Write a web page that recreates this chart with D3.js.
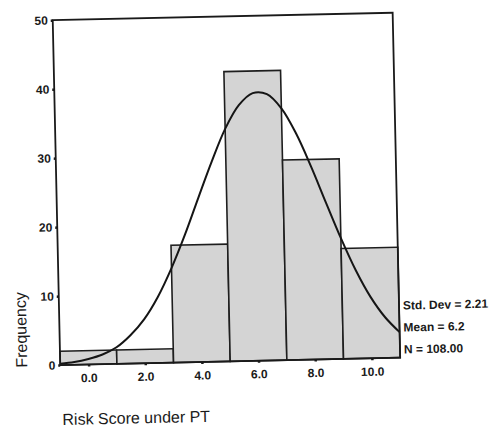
<!DOCTYPE html>
<html>
<head>
<meta charset="utf-8">
<script src="https://cdn.jsdelivr.net/npm/d3@7"></script>
<style>
  body { margin: 0; background: #fff; }
  text { font-family: "Liberation Sans", Arial, sans-serif; fill: #1a1a1a; }
</style>
</head>
<body>
<div id="wrapper"></div>
<script>
// histogram bins (centres) and counts
const binCenters = [0, 2, 4, 6, 8, 10]
const counts = [2, 2, 17, 42, 29, 16]
const binWidth = 2

// fitted normal curve
const curveX = [-1, -0.5, 0, 0.5, 1, 1.5, 2, 2.5, 3, 3.5, 4, 4.5, 5, 5.5, 6, 6.5, 7, 7.5, 8, 8.5, 9, 9.5, 10, 10.5, 11]
const curveY = [0.2, 0.4, 0.8, 1.4, 2.4, 4.1, 6.4, 9.6, 13.7, 18.5, 23.8, 29.0, 33.7, 37.1, 38.8, 38.6, 36.5, 32.8, 28.0, 22.7, 17.5, 12.8, 8.9, 5.9, 3.7]

const xTicks = [0, 2, 4, 6, 8, 10]
const yTicks = [0, 10, 20, 30, 40, 50]
const stats = ["Std. Dev = 2.21", "Mean = 6.2", "N = 108.00"]

const dimensions = {
  width: 490,
  height: 428,
  margin: { top: 16, right: 93, bottom: 67, left: 57 }
}
const innerW = dimensions.width - dimensions.margin.left - dimensions.margin.right
const innerH = dimensions.height - dimensions.margin.top - dimensions.margin.bottom

const svg = d3.select("#wrapper")
  .append("svg")
    .attr("width", dimensions.width)
    .attr("height", dimensions.height)

// the scan is tilted a little
const page = svg.append("g")
  .attr("transform", "rotate(-1.25, 245, 214)")

const bounds = page.append("g")
  .attr("transform", `translate(${dimensions.margin.left}, ${dimensions.margin.top})`)

const x = d3.scaleLinear().domain([-1, 11]).range([0, innerW])
const y = d3.scaleLinear().domain([0, 50]).range([innerH, 0])

// bars
bounds.selectAll("rect.bar")
  .data(binCenters)
  .enter().append("rect")
    .attr("class", "bar")
    .attr("x", d => x(d - binWidth / 2))
    .attr("width", d => x(d + binWidth / 2) - x(d - binWidth / 2))
    .attr("y", (d, i) => y(counts[i]))
    .attr("height", (d, i) => y(0) - y(counts[i]))
    .attr("fill", "#d4d4d4")
    .attr("stroke", "#1e1e1e")
    .attr("stroke-width", 1.6)

// normal curve
const line = d3.line()
  .x(d => x(d[0]))
  .y(d => y(d[1]))
  .curve(d3.curveCatmullRom)

bounds.append("path")
  .datum(curveX.map((v, i) => [v, curveY[i]]))
  .attr("d", line)
  .attr("fill", "none")
  .attr("stroke", "#151515")
  .attr("stroke-width", 2)

// frame
bounds.append("rect")
  .attr("x", 0)
  .attr("y", 0)
  .attr("width", innerW)
  .attr("height", innerH)
  .attr("fill", "none")
  .attr("stroke", "#1a1a1a")
  .attr("stroke-width", 1.8)

// axes
const yAxis = d3.axisLeft(y)
  .tickValues(yTicks)
  .tickFormat(d3.format("d"))
  .tickSize(2)
  .tickPadding(3)
const xAxis = d3.axisBottom(x)
  .tickValues(xTicks)
  .tickFormat(d3.format(".1f"))
  .tickSize(2)
  .tickPadding(7)

const yG = bounds.append("g").call(yAxis)
const xG = bounds.append("g")
  .attr("transform", `translate(0, ${innerH})`)
  .call(xAxis)

;[yG, xG].forEach(g => {
  g.select(".domain").remove()
  g.selectAll(".tick line").attr("stroke", "#1a1a1a").attr("stroke-width", 2.5)
  g.selectAll(".tick text")
    .attr("fill", "#1a1a1a")
    .style("font-family", "'Liberation Sans', Arial, sans-serif")
    .style("font-size", "12px")
    .style("font-weight", "bold")
})

// stats text
bounds.selectAll("text.stat")
  .data(stats)
  .enter().append("text")
    .attr("class", "stat")
    .attr("x", innerW + 4)
    .attr("y", (d, i) => 297 + i * 22)
    .style("font-size", "12px")
    .style("font-weight", "bold")
    .text(d => d)

// axis titles
page.append("text")
  .attr("transform", "translate(24, 325) rotate(-90)")
  .attr("text-anchor", "middle")
  .style("font-size", "16px")
  .text("Frequency")

page.append("text")
  .attr("x", 58)
  .attr("y", 421)
  .style("font-size", "16px")
  .text("Risk Score under PT")
</script>
</body>
</html>
